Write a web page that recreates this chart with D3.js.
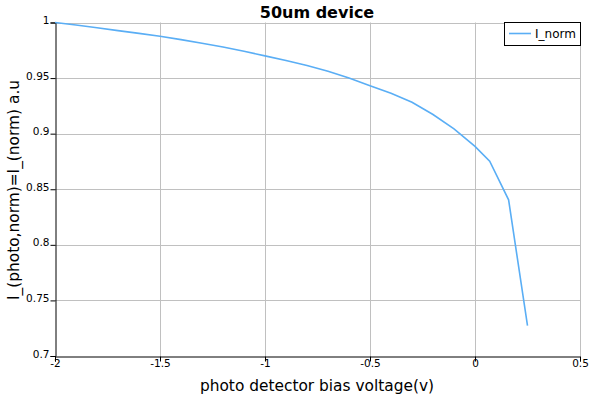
<!DOCTYPE html>
<html><head><meta charset="utf-8">
<script src="https://cdn.jsdelivr.net/npm/d3@7"></script>
<style>body{margin:0;background:#fff}svg{display:block;font-family:"DejaVu Sans",Verdana,sans-serif}</style>
</head><body><svg id="c" width="600" height="400"></svg>
<script>
const voltage = [-2,-1.9,-1.8,-1.7,-1.6,-1.5,-1.4,-1.3,-1.2,-1.1,-1.0,-0.9,-0.8,-0.7,-0.6,-0.5,-0.4,-0.3,-0.2,-0.1,0,0.07,0.16,0.25];
const iNorm = [1.0000,0.9978,0.9953,0.9927,0.9902,0.9876,0.9846,0.9814,0.9779,0.9741,0.9700,0.9658,0.9614,0.9562,0.9501,0.9432,0.9363,0.9282,0.9172,0.9043,0.8885,0.8752,0.8405,0.7273];
const xTicks = [-2,-1.5,-1,-0.5,0,0.5];
const yTicks = [0.7,0.75,0.8,0.85,0.9,0.95,1];
const title = "50um device";
const xLabel = "photo detector bias voltage(v)";
const yLabel = "I_(photo,norm)=I_(norm) a.u";
const seriesName = "I_norm";

const svg = d3.select("#c");
const L=55,R=580,T=22.5,B=356;
const x = d3.scaleLinear().domain([-2,0.5]).range([L,R]);
const y = d3.scaleLinear().domain([0.7,1]).range([B,T]);
const grid="#c0c0c0";
svg.append("g").selectAll("line").data(xTicks.slice(1)).join("line")
  .attr("x1",d=>Math.round(x(d))+0.5).attr("x2",d=>Math.round(x(d))+0.5).attr("y1",T).attr("y2",B).attr("stroke",grid);
svg.append("g").selectAll("line").data(yTicks.slice(1)).join("line")
  .attr("y1",d=>Math.round(y(d))+0.5).attr("y2",d=>Math.round(y(d))+0.5).attr("x1",L).attr("x2",R).attr("stroke",grid);

const fmt = d => String(d);
const xAxis = svg.append("g").attr("transform",`translate(0,${Math.round(B)+0.5})`)
  .call(d3.axisBottom(x).tickValues(xTicks).tickFormat(fmt).tickSizeOuter(0).tickSize(5));
const yAxis = svg.append("g").attr("transform",`translate(${L+0.5},0)`)
  .call(d3.axisLeft(y).tickValues(yTicks).tickFormat(fmt).tickSizeOuter(0).tickSize(5));
[xAxis,yAxis].forEach(g=>{g.selectAll("text").attr("font-size",10.5).attr("font-family","DejaVu Sans").attr("fill","#000");
  g.selectAll("path,line").attr("stroke","#000");});
xAxis.selectAll("text").attr("dy","0.6em").attr("y",4);
yAxis.selectAll("text").attr("x",-6).attr("dy","0.1em");

svg.append("path").datum(voltage.map((v,i)=>[v,iNorm[i]]))
  .attr("fill","none").attr("stroke","#5aaef5").attr("stroke-width",1.6)
  .attr("d",d3.line().x(d=>x(d[0])).y(d=>y(d[1])));

svg.append("text").attr("x",317).attr("y",18).attr("text-anchor","middle").attr("font-size",16).attr("font-weight","bold").text(title);
svg.append("text").attr("x",317).attr("y",391).attr("text-anchor","middle").attr("font-size",15.4).text(xLabel);
svg.append("text").attr("transform","translate(19,190) rotate(-90)").attr("text-anchor","middle").attr("font-size",15.4).text(yLabel);

const lg = svg.append("g");
lg.append("rect").attr("x",504.5).attr("y",22.5).attr("width",76).attr("height",23).attr("fill","#fff").attr("stroke","#000");
lg.append("line").attr("x1",509).attr("x2",531).attr("y1",33.5).attr("y2",33.5).attr("stroke","#5aaef5").attr("stroke-width",1.6);
lg.append("text").attr("x",535).attr("y",38).attr("font-size",12).text(seriesName);
</script></body></html>
